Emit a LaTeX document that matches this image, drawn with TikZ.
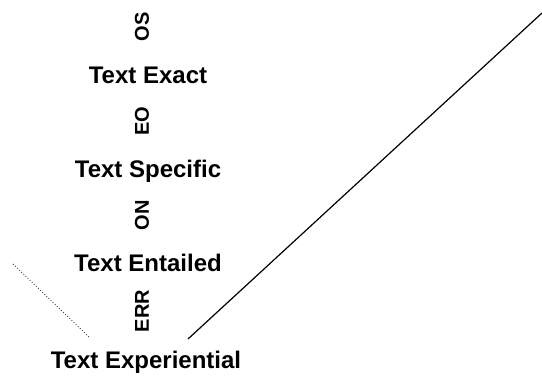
\documentclass[tikz,border=0pt]{standalone}
\usepackage{fontspec}
\setmainfont{Liberation Sans}
\begin{document}
\begin{tikzpicture}[x=1pt,y=-1pt,
  txt/.style={inner sep=0pt,anchor=base,font=\fontsize{24}{28}\selectfont\bfseries},
  lab/.style={inner sep=0pt,rotate=90,font=\fontsize{20}{24}\selectfont\bfseries},
  link/.style={line width=1.2pt},
  faint/.style={line width=0.9pt,dotted,black!75}]
\useasboundingbox (0,0) rectangle (542,381);
\node[lab] (l0) at (142,27) {OS};
\node[txt] (t1) at (148,83) {Text Exact};
\node[lab] (l1) at (142,121) {EO};
\node[txt] (t2) at (148,177) {Text Specific};
\node[lab] (l2) at (142,215) {ON};
\node[txt] (t3) at (148,271) {Text Entailed};
\node[lab] (l3) at (142,311) {ERR};
\node[txt] (t4) at (146,368) {Text Experiential};
\coordinate (rtop) at (542,13);
\coordinate (rend) at (188,339);
\coordinate (ltop) at (13,264);
\coordinate (lend) at (90,338);
\draw[link] (rtop) -- (rend);
\draw[faint] (ltop) -- (lend);
\end{tikzpicture}
\end{document}
